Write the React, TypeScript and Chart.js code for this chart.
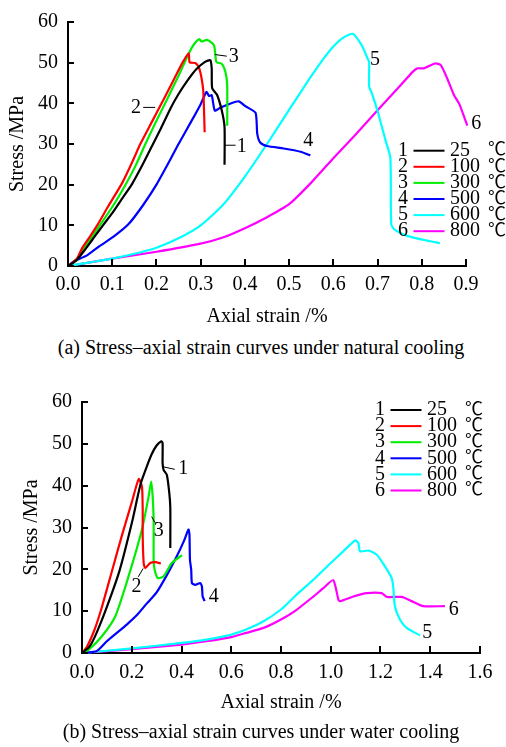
import React, { useEffect, useRef } from "react";
import { Chart, registerables } from "chart.js";

Chart.register(...registerables);

const SERIF = "'Liberation Serif', 'Times New Roman', Times, serif";
const DEG_FONT = "'Liberation Serif', 'Noto Sans CJK SC', 'DejaVu Serif', serif";

// ---------- (a) natural cooling ----------
const nat25Strain = [0, 0.02, 0.041, 0.06, 0.079, 0.1, 0.12, 0.145, 0.17, 0.19, 0.21, 0.232, 0.25, 0.27, 0.29, 0.31, 0.322, 0.325, 0.326, 0.337, 0.348, 0.354, 0.354];
const nat25Stress = [0, 1.5, 4.4, 7.2, 10, 13, 16.2, 20.2, 25.2, 29.5, 33.8, 38.8, 42.3, 45.6, 48.4, 50.2, 50.6, 48.5, 43.7, 42.1, 38.1, 34.1, 24.9];
const nat100Strain = [0, 0.02, 0.032, 0.05, 0.066, 0.09, 0.123, 0.145, 0.164, 0.19, 0.215, 0.24, 0.26, 0.273, 0.275, 0.288, 0.296, 0.301, 0.306, 0.309];
const nat100Stress = [0, 1.8, 4.4, 7.3, 10, 14.5, 20.5, 25.5, 30.1, 35.5, 40.7, 46, 50.2, 52.3, 50.1, 49.9, 48.8, 46.8, 42.9, 32.9];
const nat300Strain = [0, 0.02, 0.036, 0.055, 0.072, 0.1, 0.13, 0.152, 0.175, 0.2, 0.225, 0.25, 0.27, 0.28, 0.29, 0.297, 0.302, 0.314, 0.326, 0.331, 0.334, 0.336, 0.348, 0.356, 0.36, 0.36];
const nat300Stress = [0, 1.5, 4.4, 7.3, 10, 14.5, 20, 24.5, 30, 35.7, 41.2, 46.8, 51.5, 53.7, 55.2, 55.8, 55.2, 55.6, 54.8, 54, 51, 50.1, 49.7, 47.7, 44.5, 34.5];
const nat500Strain = [0, 0.014, 0.043, 0.07, 0.103, 0.137, 0.17, 0.2, 0.232, 0.25, 0.28, 0.3, 0.313, 0.319, 0.325, 0.332, 0.344, 0.366, 0.386, 0.401, 0.424, 0.428, 0.435, 0.45, 0.488, 0.526, 0.548];
const nat500Stress = [0, 1.2, 2.6, 4.8, 7.2, 10.3, 15, 20, 26.3, 30, 35.8, 39.8, 42.8, 41.8, 42, 38.2, 38.9, 39.9, 40.5, 39.3, 37.7, 32.5, 30.3, 29.5, 28.9, 28.1, 27.2];
const nat600Strain = [0, 0.05, 0.1, 0.15, 0.2, 0.25, 0.3, 0.35, 0.4, 0.45, 0.5, 0.55, 0.58, 0.6, 0.62, 0.638, 0.646, 0.665, 0.678, 0.681, 0.681, 0.687, 0.7, 0.718, 0.729, 0.731, 0.74, 0.767, 0.805, 0.841];
const nat600Stress = [0, 0.9, 1.8, 3.0, 4.5, 6.8, 10, 15, 22, 30, 38.4, 46.7, 51.3, 54, 56, 57, 57, 54.1, 50.9, 50.1, 44.1, 42.5, 38.1, 30.9, 26.6, 10.2, 8.8, 7.4, 6.4, 5.6];
const nat800Strain = [0, 0.1, 0.2, 0.3, 0.35, 0.4, 0.45, 0.5, 0.55, 0.6, 0.65, 0.7, 0.75, 0.78, 0.79, 0.805, 0.83, 0.843, 0.858, 0.873, 0.885, 0.903];
const nat800Stress = [0, 1.8, 3.5, 5.5, 7, 9.3, 12, 15.2, 20.5, 26.5, 32.3, 38.3, 44.2, 47.8, 48.6, 48.6, 49.8, 49.4, 46, 42, 39.8, 34.5];

const natXTicks = [0, 0.1, 0.2, 0.3, 0.4, 0.5, 0.6, 0.7, 0.8, 0.9];
const natXTickLabels = ["0.0", "0.1", "0.2", "0.3", "0.4", "0.5", "0.6", "0.7", "0.8", "0.9"];
const natNoteText = ["1", "2", "3", "4", "5", "6"];
const natNoteX = [0.393, 0.154, 0.375, 0.543, 0.694, 0.923];
const natNoteY = [29.3, 38.9, 51.4, 30.7, 50.8, 34.9];
const natLeaders = [[0.355, 29.7, 0.379, 29.7], [0.17, 39.0, 0.197, 39.0], [0.332, 52.0, 0.359, 51.6]];

// ---------- (b) water cooling ----------
const w25Strain = [0, 0.03, 0.06, 0.1, 0.15, 0.2, 0.236, 0.26, 0.28, 0.3, 0.319, 0.324, 0.324, 0.328, 0.341, 0.351, 0.355, 0.355];
const w25Stress = [0, 1.5, 5, 11, 19.5, 31, 40.5, 44.5, 47.5, 49.6, 50.6, 50.2, 45.4, 43.8, 42.6, 38.2, 34.7, 25.1];
const w100Strain = [0, 0.02, 0.05, 0.08, 0.12, 0.16, 0.2, 0.228, 0.241, 0.244, 0.244, 0.248, 0.254, 0.274, 0.295, 0.317];
const w100Stress = [0, 1.5, 5.5, 11, 19.5, 28, 36, 41.6, 39.8, 34.3, 27.9, 21.5, 20.3, 21.5, 21.7, 21.4];
const w300Strain = [0, 0.027, 0.08, 0.134, 0.187, 0.241, 0.268, 0.278, 0.284, 0.288, 0.288, 0.292, 0.305, 0.328, 0.361, 0.402];
const w300Stress = [0, 0.8, 4, 8.8, 18.3, 29.5, 37.5, 41, 37.5, 31.9, 22.3, 19.9, 17.9, 18.3, 21.5, 23.4];
const w500Strain = [0, 0.06, 0.1, 0.14, 0.18, 0.22, 0.26, 0.3, 0.34, 0.38, 0.41, 0.428, 0.432, 0.434, 0.439, 0.442, 0.455, 0.475, 0.482, 0.485, 0.493];
const w500Stress = [0, 0.5, 2.8, 4.8, 6.8, 9, 11.8, 14.5, 18.5, 23, 26.8, 29.5, 28.3, 22.3, 19.9, 16.7, 16.3, 16.7, 15.9, 13.5, 12.4];
const w600Strain = [0, 0.2, 0.4, 0.5, 0.6, 0.66, 0.73, 0.8, 0.86, 0.93, 1.0, 1.05, 1.098, 1.111, 1.118, 1.151, 1.185, 1.218, 1.245, 1.251, 1.258, 1.278, 1.305, 1.359];
const w600Stress = [0, 1.1, 2.4, 3.2, 4.4, 5.6, 7.6, 10.4, 13.8, 17.5, 21.5, 24.3, 26.9, 26.3, 24.3, 24.5, 23.5, 20.7, 17.9, 15.9, 11.1, 8.0, 6.0, 4.2];
const w800Strain = [0, 0.2, 0.4, 0.5, 0.6, 0.66, 0.73, 0.8, 0.86, 0.93, 0.97, 1.01, 1.031, 1.037, 1.091, 1.145, 1.205, 1.225, 1.285, 1.325, 1.372, 1.459];
const w800Stress = [0, 0.9, 2.0, 2.8, 3.8, 4.8, 6.0, 8.0, 10.2, 13.5, 15.5, 17.4, 12.7, 12.4, 13.5, 14.3, 14.3, 13.4, 13.4, 12.4, 11.2, 11.2];

const wXTicks = [0, 0.2, 0.4, 0.6, 0.8, 1.0, 1.2, 1.4, 1.6];
const wXTickLabels = ["0.0", "0.2", "0.4", "0.6", "0.8", "1.0", "1.2", "1.4", "1.6"];
const wNoteText = ["1", "2", "3", "4", "5", "6"];
const wNoteX = [0.407, 0.219, 0.309, 0.53, 1.388, 1.494];
const wNoteY = [44.0, 15.9, 29.2, 13.5, 4.9, 10.3];
const wLeaders = [[0.327, 44.5, 0.373, 43.9], [0.226, 18.2, 0.246, 20.2], [0.28, 32.6, 0.293, 31.2]];

// ---------- shared ----------
const yTicks = [0, 10, 20, 30, 40, 50, 60];
const yTickLabels = ["0", "10", "20", "30", "40", "50", "60"];
const legendIndex = ["1", "2", "3", "4", "5", "6"];
const legendTemps = ["25", "100", "300", "500", "600", "800"];
const legendUnit = "℃";
const seriesColors = ["#000000", "#ff0000", "#00ee00", "#0000ff", "#00ffff", "#ff00ff"];

function toPoints(xs: number[], ys: number[]) {
  return xs.map((x, i) => ({ x, y: ys[i] }));
}

function makeDatasets(pairs: number[][][]) {
  return pairs.map(([xs, ys], i) => ({
    label: legendTemps[i] + " " + legendUnit,
    data: toPoints(xs, ys),
    showLine: true,
    borderColor: seriesColors[i],
    backgroundColor: seriesColors[i],
    borderWidth: 2.2,
    pointRadius: 0,
    tension: 0.2,
    fill: false,
    clip: false as any,
  }));
}

type Decor = {
  xTicks: number[];
  noteText: string[];
  noteX: number[];
  noteY: number[];
  leaders: number[][];
  legendDx: number;
  legendDy: number;
};

function makeDecorPlugin(d: Decor) {
  return {
    id: "panelDecor",
    afterDraw(chart: any) {
      const ctx = chart.ctx;
      const { left, right, top, bottom } = chart.chartArea;
      const xs = chart.scales.x;
      const ys = chart.scales.y;
      ctx.save();
      // inward tick marks
      ctx.strokeStyle = "#000";
      ctx.lineWidth = 2;
      ctx.beginPath();
      d.xTicks.forEach((v) => {
        const px = Math.round(xs.getPixelForValue(v));
        ctx.moveTo(px, bottom);
        ctx.lineTo(px, bottom - 7);
      });
      yTicks.forEach((v) => {
        const py = Math.round(ys.getPixelForValue(v));
        ctx.moveTo(left, py);
        ctx.lineTo(left + 6, py);
      });
      ctx.stroke();
      // leader lines
      ctx.lineWidth = 1;
      ctx.beginPath();
      d.leaders.forEach(([x1, y1, x2, y2]) => {
        ctx.moveTo(xs.getPixelForValue(x1), ys.getPixelForValue(y1));
        ctx.lineTo(xs.getPixelForValue(x2), ys.getPixelForValue(y2));
      });
      ctx.stroke();
      // curve numbers
      ctx.fillStyle = "#000";
      ctx.font = `20px ${SERIF}`;
      ctx.textAlign = "center";
      ctx.textBaseline = "middle";
      d.noteText.forEach((t, i) => {
        ctx.fillText(t, xs.getPixelForValue(d.noteX[i]), ys.getPixelForValue(d.noteY[i]));
      });
      // legend
      const nx = right + d.legendDx;
      const y0 = top + d.legendDy;
      const step = 16.1;
      legendIndex.forEach((t, i) => {
        const y = y0 + i * step;
        ctx.fillStyle = "#000";
        ctx.font = `20px ${SERIF}`;
        ctx.textAlign = "center";
        ctx.fillText(t, nx, y);
        ctx.strokeStyle = seriesColors[i];
        ctx.lineWidth = 2;
        ctx.beginPath();
        ctx.moveTo(nx + 10.5, y);
        ctx.lineTo(nx + 41.5, y);
        ctx.stroke();
        ctx.textAlign = "left";
        ctx.fillText(legendTemps[i], nx + 47, y);
        ctx.font = `18px ${DEG_FONT}`;
        ctx.fillText(legendUnit, nx + 85, y);
      });
      ctx.restore();
    },
  };
}

function makeConfig(opts: {
  datasets: any[];
  xMax: number;
  xTicks: number[];
  xTickLabels: string[];
  padding: any;
  yWidth: number;
  xHeight: number;
  xTickPad: number;
  yTitlePad: number;
  decor: Decor;
}) {
  const font = { family: SERIF, size: 20 };
  return {
    type: "scatter" as const,
    data: { datasets: opts.datasets },
    options: {
      responsive: false,
      animation: false as const,
      devicePixelRatio: 1,
      layout: { padding: opts.padding },
      plugins: { legend: { display: false }, tooltip: { enabled: false }, title: { display: false } },
      scales: {
        x: {
          type: "linear" as const,
          min: 0,
          max: opts.xMax,
          afterBuildTicks: (axis: any) => {
            axis.ticks = opts.xTicks.map((value) => ({ value }));
          },
          afterFit: (scale: any) => {
            scale.height = opts.xHeight;
          },
          grid: { display: false, drawTicks: false },
          border: { display: true, color: "#000", width: 2 },
          ticks: {
            autoSkip: false,
            maxRotation: 0,
            padding: opts.xTickPad,
            color: "#000",
            font,
            callback: (_v: any, i: number) => opts.xTickLabels[i],
          },
          title: { display: true, text: "Axial strain /%", color: "#000", font, padding: { top: 0, bottom: 4 } },
        },
        y: {
          type: "linear" as const,
          min: 0,
          max: 60,
          afterBuildTicks: (axis: any) => {
            axis.ticks = yTicks.map((value) => ({ value }));
          },
          afterFit: (scale: any) => {
            scale.width = opts.yWidth;
          },
          grid: { display: false, drawTicks: false },
          border: { display: true, color: "#000", width: 2 },
          ticks: {
            autoSkip: false,
            padding: 10,
            color: "#000",
            font,
            callback: (_v: any, i: number) => yTickLabels[i],
          },
          title: { display: true, text: "Stress /MPa", color: "#000", font, padding: { top: opts.yTitlePad, bottom: 0 } },
        },
      },
    },
    plugins: [makeDecorPlugin(opts.decor)],
  };
}

export default function App() {
  const topRef = useRef<HTMLCanvasElement | null>(null);
  const botRef = useRef<HTMLCanvasElement | null>(null);

  useEffect(() => {
    const natSets = makeDatasets([
      [nat25Strain, nat25Stress],
      [nat100Strain, nat100Stress],
      [nat300Strain, nat300Stress],
      [nat500Strain, nat500Stress],
      [nat600Strain, nat600Stress],
      [nat800Strain, nat800Stress],
    ]);
    const wSets = makeDatasets([
      [w25Strain, w25Stress],
      [w100Strain, w100Stress],
      [w300Strain, w300Stress],
      [w500Strain, w500Stress],
      [w600Strain, w600Stress],
      [w800Strain, w800Stress],
    ]);
    const c1 = new Chart(
      topRef.current as HTMLCanvasElement,
      makeConfig({
        datasets: natSets,
        xMax: 0.9,
        xTicks: natXTicks,
        xTickLabels: natXTickLabels,
        padding: { top: 15, right: 40, bottom: 2, left: 0 },
        yWidth: 68,
        xHeight: 67,
        xTickPad: 7,
        yTitlePad: 6,
        decor: {
          xTicks: natXTicks,
          noteText: natNoteText,
          noteX: natNoteX,
          noteY: natNoteY,
          leaders: natLeaders,
          legendDx: -63,
          legendDy: 128.7,
        },
      }) as any
    );
    const c2 = new Chart(
      botRef.current as HTMLCanvasElement,
      makeConfig({
        datasets: wSets,
        xMax: 1.6,
        xTicks: wXTicks,
        xTickLabels: wXTickLabels,
        padding: { top: 22, right: 26, bottom: 1, left: 0 },
        yWidth: 82,
        xHeight: 66,
        xTickPad: 8,
        yTitlePad: 20,
        decor: {
          xTicks: wXTicks,
          noteText: wNoteText,
          noteX: wNoteX,
          noteY: wNoteY,
          leaders: wLeaders,
          legendDx: -100,
          legendDy: 8,
        },
      }) as any
    );
    return () => {
      c1.destroy();
      c2.destroy();
    };
  }, []);

  const caption: React.CSSProperties = {
    position: "absolute",
    left: 8,
    width: 506,
    textAlign: "center",
    fontFamily: SERIF,
    fontSize: 20,
    lineHeight: "24px",
    color: "#000",
    whiteSpace: "nowrap",
  };

  return (
    <div style={{ position: "absolute", left: 0, top: 0, width: 506, height: 747, background: "#fff", overflow: "hidden" }}>
      <canvas ref={topRef} width={506} height={335} style={{ position: "absolute", left: 0, top: 0 }} />
      <div style={{ ...caption, top: 335 }}>(a) Stress–axial strain curves under natural cooling</div>
      <canvas ref={botRef} width={506} height={340} style={{ position: "absolute", left: 0, top: 380 }} />
      <div style={{ ...caption, top: 719 }}>(b) Stress–axial strain curves under water cooling</div>
    </div>
  );
}
